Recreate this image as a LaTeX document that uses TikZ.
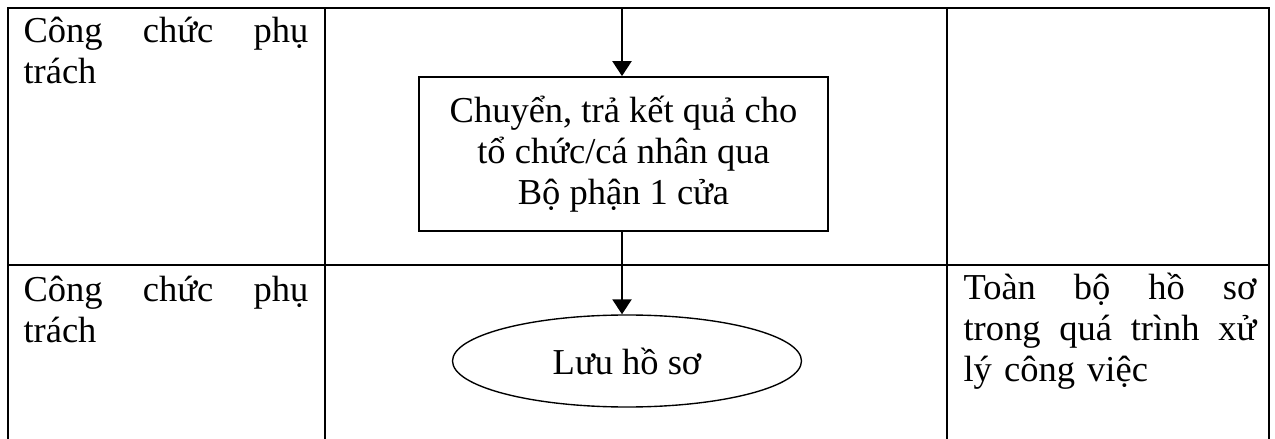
\documentclass[tikz,border=0pt]{standalone}
\usepackage{fontspec}
\setmainfont{Liberation Serif}
\usetikzlibrary{arrows.meta,shapes.geometric}
\tikzset{
  bang/.style={line width=1.1pt},
  luong/.style={line width=0.9pt,-{Triangle[width=7.6pt,length=6pt]}},
  chu/.style={inner sep=0pt,font=\fontsize{14.6pt}{16.4pt}\selectfont},
}
\begin{document}
\begin{tikzpicture}[x=0.4pt,y=-0.4pt]
                \useasboundingbox (0,0) rectangle (1275,439);
                \draw[bang] (8,439) |- (1269,8) -- (1269,439);
                \draw[bang] (325,8) -- (325,439);
                \draw[bang] (947,8) -- (947,439);
                \draw[bang] (8,265) -- (1269,265);
                \node[chu,anchor=base west,text width=114pt] (cc1) at (23,43) {C\^ong\hfill chức\hfill phụ\\trách};
                \node[chu,anchor=base west,text width=114pt] (cc2) at (23,302) {C\^ong\hfill chức\hfill phụ\\trách};
                \node[chu,anchor=base west,text width=117.2pt] (hoso) at (963,300) {Toàn\hfill bộ\hfill hồ\hfill sơ\\trong\hfill quá\hfill trình\hfill xử\\lý công việc};
                \node[chu,draw,line width=0.7pt,minimum width=163.6pt,minimum height=61.6pt,align=center] (chuyen) at (623.5,154) {Chuyển, trả kết quả cho\\tổ chức/cá nhân qua\\Bộ phận 1 cửa};
                \node[chu,draw,ellipse,line width=0.55pt,minimum width=139.6pt,minimum height=36.8pt] (luu) at (627,361) {Lưu hồ sơ};
                \coordinate (dau) at (622,8);
                \draw[luong] (dau) -- (dau |- chuyen.north);
                \draw[luong] (chuyen.south -| dau) -- (dau |- luu.north);
            \end{tikzpicture}
\end{document}
